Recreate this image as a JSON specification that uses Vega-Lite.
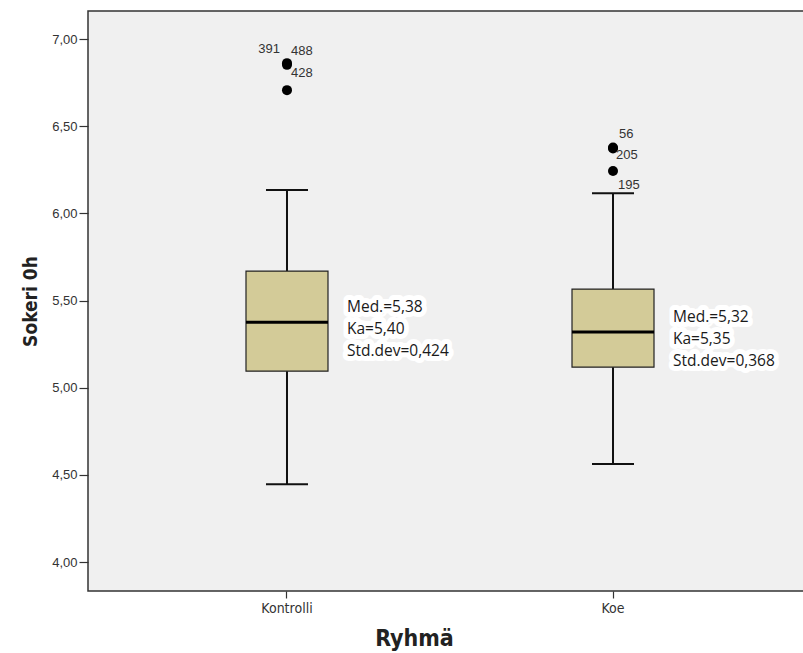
{
  "$schema": "https://vega.github.io/schema/vega-lite/v6.json",
  "width": 724,
  "height": 580,
  "autosize": {"type": "none"},
  "padding": {"left": 88, "top": 11, "right": 0, "bottom": 62},
  "background": "white",
  "config": {
    "view": {"fill": "#f0f0f0", "stroke": "#333333", "strokeWidth": 1.5},
    "font": "Liberation Sans"
  },
  "datasets": {
    "stats": [
      {"group": "Kontrolli", "lower": 4.447, "q1": 5.095, "median": 5.376, "q3": 5.669, "upper": 6.134, "note": ["Med.=5,38", "Ka=5,40", "Std.dev=0,424"]},
      {"group": "Koe", "lower": 4.562, "q1": 5.118, "median": 5.319, "q3": 5.566, "upper": 6.116, "note": ["Med.=5,32", "Ka=5,35", "Std.dev=0,368"]}
    ],
    "outliers": [
      {"group": "Kontrolli", "id": "391", "value": 6.862},
      {"group": "Kontrolli", "id": "488", "value": 6.852},
      {"group": "Kontrolli", "id": "428", "value": 6.707},
      {"group": "Koe", "id": "56", "value": 6.378},
      {"group": "Koe", "id": "205", "value": 6.372},
      {"group": "Koe", "id": "195", "value": 6.243}
    ]
  },
  "encoding": {
    "x": {
      "field": "group", "type": "nominal", "sort": ["Kontrolli", "Koe"],
      "scale": {"paddingInner": 0.5, "paddingOuter": 0.3604},
      "axis": {
        "title": "Ryhmä", "domain": false, "labelAngle": 0,
        "labelFont": "DejaVu Sans Condensed", "labelFontSize": 14, "labelColor": "#333333", "labelPadding": 3,
        "tickColor": "#333333", "tickSize": 7, "tickWidth": 1.2,
        "titleFont": "DejaVu Sans Condensed", "titleFontSize": 23, "titleFontWeight": "bold", "titleColor": "#222222",
        "titleX": 326, "titleY": 54, "titleBaseline": "alphabetic", "titleAnchor": null
      }
    }
  },
  "layer": [
    {
      "data": {"name": "stats"},
      "mark": {"type": "rule", "color": "#111111", "strokeWidth": 2},
      "encoding": {
        "y": {
          "field": "lower", "type": "quantitative",
          "scale": {"domain": [3.834, 7.161], "nice": false, "zero": false},
          "axis": {
            "title": "Sokeri 0h", "values": [4, 4.5, 5, 5.5, 6, 6.5, 7], "grid": false, "domain": false,
            "labelExpr": "replace(format(datum.value, '.2f'), '.', ',')",
            "labelFont": "Liberation Sans", "labelFontSize": 13, "labelColor": "#333333", "labelPadding": 2,
            "tickColor": "#333333", "tickSize": 9, "tickWidth": 1.2,
            "titleFont": "DejaVu Sans Condensed", "titleFontSize": 19, "titleFontWeight": "bold", "titleColor": "#222222",
            "titleX": -52, "titleY": 290, "titleAngle": -90, "titleBaseline": "alphabetic", "titleAlign": "center"
          }
        },
        "y2": {"field": "upper"}
      }
    },
    {
      "data": {"name": "stats"},
      "mark": {"type": "bar", "size": 82, "fill": "#d3cb98", "stroke": "#222222", "strokeWidth": 1.2},
      "encoding": {
        "y": {"field": "q1", "type": "quantitative"},
        "y2": {"field": "q3"}
      }
    },
    {
      "data": {"name": "stats"},
      "mark": {"type": "tick", "size": 82, "thickness": 3, "color": "#000000", "opacity": 1},
      "encoding": {"y": {"field": "median", "type": "quantitative"}}
    },
    {
      "data": {"name": "stats"},
      "mark": {"type": "tick", "size": 42, "thickness": 2, "color": "#111111", "opacity": 1},
      "encoding": {"y": {"field": "upper", "type": "quantitative"}}
    },
    {
      "data": {"name": "stats"},
      "mark": {"type": "tick", "size": 42, "thickness": 2, "color": "#111111", "opacity": 1},
      "encoding": {"y": {"field": "lower", "type": "quantitative"}}
    },
    {
      "data": {"name": "stats"},
      "mark": {"type": "text", "align": "left", "baseline": "middle", "dx": 60, "dy": -15, "font": "Open Sans", "fontSize": 15.5, "lineHeight": 22, "stroke": "white", "strokeWidth": 10, "strokeJoin": "round", "fill": "white"},
      "encoding": {"y": {"field": "median", "type": "quantitative"}, "text": {"field": "note"}}
    },
    {
      "data": {"name": "stats"},
      "mark": {"type": "text", "align": "left", "baseline": "middle", "dx": 60, "dy": -15, "font": "Open Sans", "fontSize": 15.5, "lineHeight": 22, "color": "#1a1a1a"},
      "encoding": {"y": {"field": "median", "type": "quantitative"}, "text": {"field": "note"}}
    },
    {
      "data": {"name": "outliers"},
      "mark": {"type": "circle", "size": 100, "color": "#000000", "opacity": 1},
      "encoding": {"y": {"field": "value", "type": "quantitative"}}
    },
    {
      "data": {"name": "outliers"},
      "transform": [{"filter": "datum.id == '391'"}],
      "mark": {"type": "text", "align": "right", "baseline": "middle", "dx": -7, "dy": -14, "fontSize": 13, "color": "#333333"},
      "encoding": {"y": {"field": "value", "type": "quantitative"}, "text": {"field": "id"}}
    },
    {
      "data": {"name": "outliers"},
      "transform": [{"filter": "datum.id == '488'"}],
      "mark": {"type": "text", "align": "left", "baseline": "middle", "dx": 4, "dy": -14, "fontSize": 13, "color": "#333333"},
      "encoding": {"y": {"field": "value", "type": "quantitative"}, "text": {"field": "id"}}
    },
    {
      "data": {"name": "outliers"},
      "transform": [{"filter": "datum.id == '428'"}],
      "mark": {"type": "text", "align": "left", "baseline": "middle", "dx": 4, "dy": -17, "fontSize": 13, "color": "#333333"},
      "encoding": {"y": {"field": "value", "type": "quantitative"}, "text": {"field": "id"}}
    },
    {
      "data": {"name": "outliers"},
      "transform": [{"filter": "datum.id == '56'"}],
      "mark": {"type": "text", "align": "left", "baseline": "middle", "dx": 6, "dy": -14, "fontSize": 13, "color": "#333333"},
      "encoding": {"y": {"field": "value", "type": "quantitative"}, "text": {"field": "id"}}
    },
    {
      "data": {"name": "outliers"},
      "transform": [{"filter": "datum.id == '205'"}],
      "mark": {"type": "text", "align": "left", "baseline": "middle", "dx": 3, "dy": 6, "fontSize": 13, "color": "#333333"},
      "encoding": {"y": {"field": "value", "type": "quantitative"}, "text": {"field": "id"}}
    },
    {
      "data": {"name": "outliers"},
      "transform": [{"filter": "datum.id == '195'"}],
      "mark": {"type": "text", "align": "left", "baseline": "middle", "dx": 5, "dy": 14, "fontSize": 13, "color": "#333333"},
      "encoding": {"y": {"field": "value", "type": "quantitative"}, "text": {"field": "id"}}
    }
  ]
}
